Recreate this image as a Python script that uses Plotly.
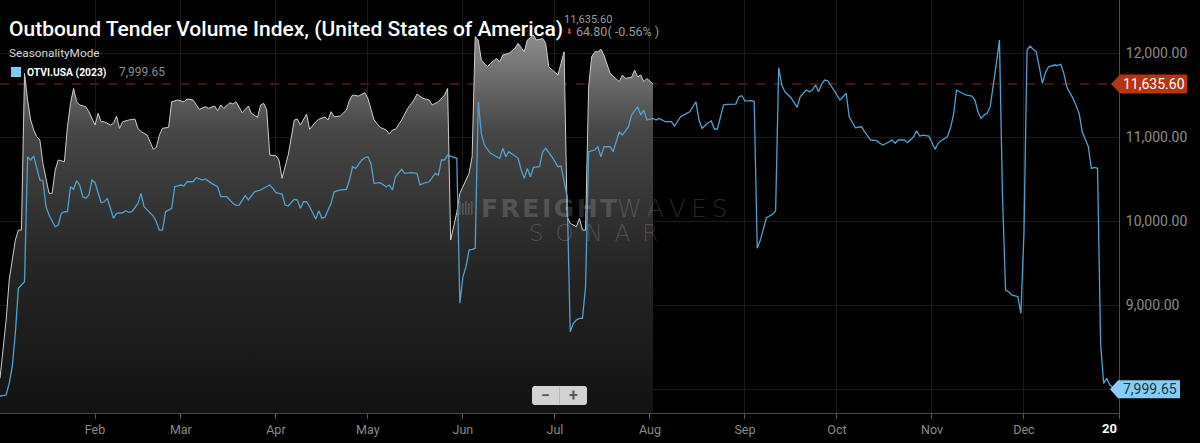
import plotly.graph_objects as go
import pandas as pd

# ---------------- data ----------------
YEAR = "2023"

# current-year series (grey filled area), plotted on the seasonal axis
grey_dates = [
    "01-01","01-03","01-04","01-06","01-07","01-08","01-09","01-10","01-11","01-12","01-13","01-14","01-15","01-17","01-18","01-19","01-20","01-22","01-23","01-24","01-25","01-26","01-27","01-29","01-30",
    "02-01","02-02","02-03","02-04","02-06","02-07","02-08","02-09","02-10","02-12","02-14","02-15","02-16","02-18","02-20","02-21","02-22","02-23","02-25","02-26","02-28",
    "03-02","03-03","03-05","03-07","03-09","03-10","03-12","03-13","03-14","03-15","03-17","03-18","03-19","03-21","03-23","03-24","03-26","03-27","03-28","03-29","03-30",
    "04-01","04-02","04-03","04-05","04-07","04-08","04-09","04-11","04-12","04-14","04-15","04-17","04-18","04-19","04-20","04-22","04-24","04-25","04-26","04-28","04-30",
    "05-01","05-02","05-03","05-05","05-07","05-08","05-09","05-10","05-12","05-14","05-16","05-17","05-19","05-21","05-22","05-24","05-26","05-27","05-28","05-30","05-31",
    "06-02","06-03","06-04","06-05","06-06","06-07","06-09","06-10","06-12","06-13","06-14","06-16","06-18","06-19","06-21","06-22","06-24","06-25","06-27","06-28","06-29",
    "07-01","07-02","07-03","07-04","07-05","07-06","07-08","07-09","07-10","07-11","07-12","07-13","07-14","07-15","07-16","07-17","07-19","07-21","07-22","07-23","07-24","07-26","07-27","07-28","07-29","07-30","07-31",
    "08-02",
]
grey_values = [
    8131,8825,9301,9777,9896,9896,11762,11444,11206,11087,11007,10968,10690,10333,10333,10611,10730,10710,11126,11405,11583,11424,11385,11365,11305,
    11146,11286,11186,11186,11146,11167,11254,11107,11186,11206,11218,11107,11067,11027,10857,10881,11027,11107,11119,11424,11444,
    11424,11456,11444,11333,11365,11345,11373,11317,11385,11345,11412,11396,11424,11293,11373,11286,11238,11385,11405,11325,10789,
    10781,10730,10512,10789,11206,11218,11146,11277,11095,11186,11216,11242,11206,11305,11245,11254,11325,11444,11504,11492,11531,
    11464,11325,11206,11119,11087,11039,11087,11095,11206,11345,11444,11515,11464,11444,11385,11424,11504,11583,9777,10107,10333,
    10492,10571,10769,12200,12158,11920,11840,11881,11940,11900,11980,12000,12060,12119,12019,12158,12218,12158,12178,12119,11840,
    11781,11742,11881,12019,10055,9976,9936,10036,9896,9896,11602,11960,12019,12019,12048,11980,11762,11702,11662,11742,11702,11714,11801,11721,11742,11662,11700,
    11635.60,
]

# OTVI.USA (2023) series (blue line)
blue_dates = [
    "01-01","01-03","01-04","01-05","01-06","01-07","01-08","01-09","01-10","01-11","01-12","01-13","01-14","01-15","01-16","01-17","01-19","01-20","01-21","01-22","01-23","01-24","01-25","01-26","01-27","01-28","01-29","01-30","01-31",
    "02-01","02-02","02-03","02-04","02-05","02-07","02-08","02-10","02-11","02-12","02-13","02-15","02-16","02-17","02-18","02-20","02-21","02-22","02-23","02-24","02-25","02-26","02-27",
    "03-01","03-02","03-03","03-05","03-06","03-08","03-09","03-11","03-13","03-14","03-16","03-18","03-19","03-20","03-22","03-23","03-25","03-27","03-28","03-30","03-31",
    "04-01","04-02","04-03","04-04","04-05","04-07","04-08","04-09","04-10","04-11","04-12","04-14","04-15","04-16","04-17","04-19","04-20","04-22","04-24","04-25","04-26","04-27","04-29","04-30",
    "05-01","05-02","05-03","05-05","05-07","05-08","05-09","05-10","05-12","05-13","05-15","05-17","05-18","05-19","05-21","05-23","05-24","05-25","05-26","05-27","05-29","05-30","05-31",
    "06-01","06-02","06-03","06-04","06-05","06-06","06-07","06-08","06-10","06-12","06-13","06-14","06-15","06-16","06-18","06-19","06-20","06-21","06-22","06-23","06-24","06-26","06-27","06-28","06-30",
    "07-02","07-03","07-04","07-05","07-06","07-07","07-08","07-09","07-10","07-11","07-12","07-14","07-15","07-16","07-17","07-19","07-20","07-22","07-23","07-25","07-26","07-28","07-29","07-30","07-31",
    "08-02","08-03","08-04","08-06","08-08","08-09","08-11","08-13","08-14","08-16","08-17","08-18","08-20","08-21","08-22","08-23","08-25","08-26","08-28","08-29","08-30","08-31",
    "09-01","09-03","09-04","09-05","09-06","09-07","09-08","09-10","09-11","09-12","09-13","09-14","09-16","09-18","09-19","09-21","09-22","09-23","09-24","09-25","09-26","09-27","09-28","09-30",
    "10-02","10-03","10-04","10-05","10-07","10-09","10-10","10-12","10-14","10-15","10-16","10-18","10-19","10-20","10-21","10-23","10-24","10-26","10-27","10-28","10-29","10-31",
    "11-02","11-03","11-04","11-06","11-07","11-08","11-09","11-10","11-12","11-14","11-15","11-16","11-17","11-18","11-19","11-20","11-21","11-22","11-23","11-24","11-25","11-26","11-27","11-29","11-30",
    "12-01","12-02","12-03","12-04","12-05","12-06","12-07","12-08","12-09","12-11","12-12","12-13","12-14","12-15","12-16","12-17","12-19","12-20","12-22","12-23","12-24","12-25","12-26","12-27","12-28","12-29","12-30","12-31",
]
blue_values = [
    7920,7932,8071,8269,8667,9202,9242,9281,10769,10730,10777,10650,10492,10483,10174,10075,9936,9956,10095,10114,10114,10412,10381,10483,10432,10293,10274,10313,10492,
    10460,10333,10221,10233,10274,10036,10095,10102,10126,10107,10114,10214,10333,10174,10134,10063,9995,9896,9896,10114,10134,10155,10412,
    10432,10420,10471,10471,10519,10492,10504,10452,10412,10293,10293,10214,10190,10194,10305,10254,10352,10373,10393,10432,10393,
    10341,10333,10325,10194,10182,10262,10254,10155,10233,10233,10174,10027,10126,10036,10050,10214,10352,10373,10381,10492,10650,10631,10730,10757,
    10769,10690,10452,10460,10412,10432,10373,10531,10619,10571,10579,10571,10432,10452,10471,10571,10551,10730,10730,10789,10769,10750,9024,
    9340,9460,9658,9667,9679,11424,11048,10908,10809,10769,10750,10869,10769,10829,10769,10750,10611,10512,10631,10531,10643,10650,10829,10869,10769,
    10650,10658,10492,10293,8686,8786,8825,8845,8845,9221,10829,10849,10888,10769,10888,10888,10829,11067,11027,11126,11265,11365,11265,11325,11206,
    11226,11206,11226,11186,11186,11135,11245,11286,11305,11424,11206,11107,11174,11194,11099,11099,11385,11393,11396,11396,11483,11495,
    11432,11436,11429,9679,9777,9896,10043,10083,10126,11829,11623,11543,11471,11357,11483,11563,11543,11563,11623,11543,11635,11682,11674,11563,
    11444,11483,11524,11245,11114,11126,11067,10968,10960,10929,10908,10948,10968,10929,10968,10968,10936,11007,11079,11015,11027,11015,
    10857,10929,10960,11007,11107,11265,11563,11543,11504,11492,11444,11305,11226,11265,11286,11365,11602,11881,12158,10300,9181,9162,9123,9103,8905,
    9857,12039,12087,12048,12019,11840,11643,11769,11840,11861,11857,11869,11762,11595,11524,11464,11286,11067,10888,10631,10643,10631,8548,8071,8131,8051,8023,7999.65,
]

month_ticks = ["2023-02-01","2023-03-01","2023-04-01","2023-05-01","2023-06-01","2023-07-01",
               "2023-08-01","2023-09-01","2023-10-01","2023-11-01","2023-12-01","2024-01-01"]
month_labels = ["Feb","Mar","Apr","May","Jun","Jul","Aug","Sep","Oct","Nov","Dec",""]
y_ticks = [8000, 9000, 10000, 11000, 12000]
y_labels = ["", "9,000.00", "10,000.00", "11,000.00", "12,000.00"]

last_value = 11635.60
change = -64.80
change_pct = -0.56
blue_last = 7999.65

# ---------------- layout helpers ----------------
W, H = 1200, 443
PL, PR, PT, PB = 0, 1119, 0, 413   # plot area in pixels
Y_MIN, Y_MAX = 7718, 12635

def px(x):
    return (x - PL) / (PR - PL)

def py(y):
    return 1 - (y - PT) / (PB - PT)

gx = pd.to_datetime([YEAR + "-" + d for d in grey_dates])
bx = pd.to_datetime([YEAR + "-" + d for d in blue_dates])

fig = go.Figure()

fig.add_trace(go.Scatter(
    x=gx, y=grey_values, mode="lines",
    line=dict(color="#cdcdcd", width=1),
    fill="tozeroy",
    fillgradient=dict(type="vertical",
                      colorscale=[[0, "#121212"], [0.4, "#262626"], [0.75, "#474747"], [1, "#8c8c8c"]],
                      start=Y_MIN, stop=12218),
    hoverinfo="skip", showlegend=False,
))
fig.add_trace(go.Scatter(
    x=bx, y=blue_values, mode="lines",
    line=dict(color="#52a0cf", width=1.3),
    hoverinfo="skip", showlegend=False,
))

shapes = []
annotations = []

# dashed last-value line
shapes.append(dict(type="line", xref="paper", yref="y", x0=0, x1=1, y0=last_value, y1=last_value,
                   line=dict(color="#8a2a18", width=1, dash="dash"), layer="below"))

# legend swatch
shapes.append(dict(type="rect", xref="paper", yref="paper", x0=px(11), x1=px(21), y0=py(77), y1=py(67),
                   fillcolor="#7ecbf5", line=dict(width=0)))

# zoom buttons (rounded box)
def rounded_rect(x0, y0, x1, y1, r):
    X = lambda v: px(v)
    Y = lambda v: py(v)
    return (f"M {X(x0 + r)} {Y(y0)} L {X(x1 - r)} {Y(y0)} Q {X(x1)} {Y(y0)} {X(x1)} {Y(y0 + r)} "
            f"L {X(x1)} {Y(y1 - r)} Q {X(x1)} {Y(y1)} {X(x1 - r)} {Y(y1)} "
            f"L {X(x0 + r)} {Y(y1)} Q {X(x0)} {Y(y1)} {X(x0)} {Y(y1 - r)} "
            f"L {X(x0)} {Y(y0 + r)} Q {X(x0)} {Y(y0)} {X(x0 + r)} {Y(y0)} Z")

shapes.append(dict(type="path", xref="paper", yref="paper", path=rounded_rect(532, 386, 587, 405, 3),
                   fillcolor="#d2d2d2", line=dict(width=0)))
shapes.append(dict(type="line", xref="paper", yref="paper", x0=px(559.5), x1=px(559.5), y0=py(404), y1=py(387),
                   line=dict(color="#b8b8b8", width=1)))
annotations.append(dict(text="<b>−</b>", x=px(545.5), y=py(395.5), xanchor="center", yanchor="middle",
                        font=dict(family="Roboto", size=16, color="#5a5a5a")))
annotations.append(dict(text="<b>+</b>", x=px(573), y=py(395.5), xanchor="center", yanchor="middle",
                        font=dict(family="Roboto", size=16, color="#5a5a5a")))

# right-side value labels with pointers
def value_tag(value, text, bg, fg, x_tip, x_left, x_right, half_h_px):
    dv = half_h_px * (Y_MAX - Y_MIN) / (PB - PT)
    xl, xr, xt = px(x_left), px(x_right), px(x_tip)
    path = (f"M {xt} {value} L {xl} {value + dv} L {xr} {value + dv} "
            f"L {xr} {value - dv} L {xl} {value - dv} Z")
    shapes.append(dict(type="path", xref="paper", yref="y", path=path, fillcolor=bg, line=dict(width=0)))
    annotations.append(dict(text=text, x=(xl + xr) / 2 + px(1), y=value, xref="paper", yref="y",
                            showarrow=False, xanchor="center", yanchor="middle",
                            font=dict(family="Roboto", size=14, color=fg)))

value_tag(last_value, f"{last_value:,.2f}", "#b8330f", "#ffffff", 1111, 1120, 1187, 9.5)
value_tag(blue_last, f"{blue_last:,.2f}", "#86cef7", "#1d3446", 1110, 1118, 1180, 9)

# header texts
annotations += [
    dict(text="Outbound Tender Volume Index, (United States of America)", x=px(7), y=py(29),
         xanchor="left", yanchor="middle", font=dict(family="Roboto", size=21, color="#ffffff", weight=500)),
    dict(text=f"{last_value:,.2f}", x=px(562), y=py(19), xanchor="left", yanchor="middle",
         font=dict(family="Roboto", size=11, color="#9a9a9a")),
    dict(text="⬇", x=px(563.5), y=py(31), xanchor="left", yanchor="middle",
         font=dict(family="DejaVu Sans", size=8, color="#e0453a")),
    dict(text=f"{abs(change):.2f}( {change_pct:.2f}% )", x=px(574), y=py(31), xanchor="left", yanchor="middle",
         font=dict(family="Roboto", size=12.5, color="#9a9a9a")),
    dict(text="SeasonalityMode", x=px(7), y=py(53), xanchor="left", yanchor="middle",
         font=dict(family="Roboto", size=11.8, color="#d6d6d6")),
    dict(text="<b>OTVI.USA (2023)</b>", x=px(25), y=py(72), xanchor="left", yanchor="middle",
         font=dict(family="Roboto", size=10.3, color="#ffffff")),
    dict(text=f"{blue_last:,.2f}", x=px(117), y=py(72), xanchor="left", yanchor="middle",
         font=dict(family="Roboto", size=12, color="#8c8c8c")),
    dict(text="<b>20</b>", x=px(1119), y=py(428), xanchor="right", yanchor="middle",
         font=dict(family="Roboto", size=13, color="#ffffff")),
]

# watermark
wm = "rgba(255,255,255,0.17)"
hs = "\u200a"
ts = "\u2009"
annotations += [
    dict(text="<b>" + hs.join("FREIGHT") + "</b>", x=px(479), y=py(208), xanchor="left", yanchor="middle",
         font=dict(family="DejaVu Sans", size=25, color=wm)),
    dict(text=ts.join("WAVES"), x=px(615), y=py(208), xanchor="left", yanchor="middle",
         font=dict(family="DejaVu Sans", size=25, color=wm, weight=200)),
    dict(text=(ts + " ").join("SONAR"), x=px(593.5), y=py(233), xanchor="center", yanchor="middle",
         font=dict(family="DejaVu Sans", size=23, color=wm, weight=200)),
]
for i, bx0 in enumerate([459, 462, 465, 468, 471]):
    shapes.append(dict(type="rect", xref="paper", yref="paper", x0=px(bx0), x1=px(bx0 + 1.6),
                       y0=py(215), y1=py(201 + (i % 2) * 2), fillcolor=wm, line=dict(width=0)))

for a in annotations:
    a.setdefault("xref", "paper")
    a.setdefault("yref", "paper")
    a.setdefault("showarrow", False)

fig.update_layout(
    width=W, height=H,
    margin=dict(l=PL, r=W - PR, t=PT, b=H - PB, pad=0),
    paper_bgcolor="#000000", plot_bgcolor="#000000",
    showlegend=False,
    shapes=shapes, annotations=annotations,
    xaxis=dict(type="date", range=["2023-01-01", "2024-01-01"],
               tickvals=month_ticks, ticktext=month_labels,
               ticks="outside", ticklen=5, tickcolor="#555555",
               showline=True, linecolor="#4a4a4a", linewidth=1,
               showgrid=True, gridcolor="#1c1c1c", gridwidth=1,
               tickfont=dict(family="Roboto", size=12.5, color="#8a8a8a"),
               zeroline=False, automargin=False, fixedrange=True),
    yaxis=dict(side="right", range=[Y_MIN, Y_MAX],
               tickvals=y_ticks, ticktext=y_labels,
               ticks="", ticklabelstandoff=3,
               showline=True, linecolor="#4a4a4a", linewidth=1,
               showgrid=True, gridcolor="#1a1a1a", gridwidth=1,
               tickfont=dict(family="Roboto", size=14, color="#8c8c8c"),
               zeroline=False, automargin=False, fixedrange=True),
)

fig.write_html("out.html", config={"displayModeBar": False},
               post_script="document.body.style.margin='0';")
